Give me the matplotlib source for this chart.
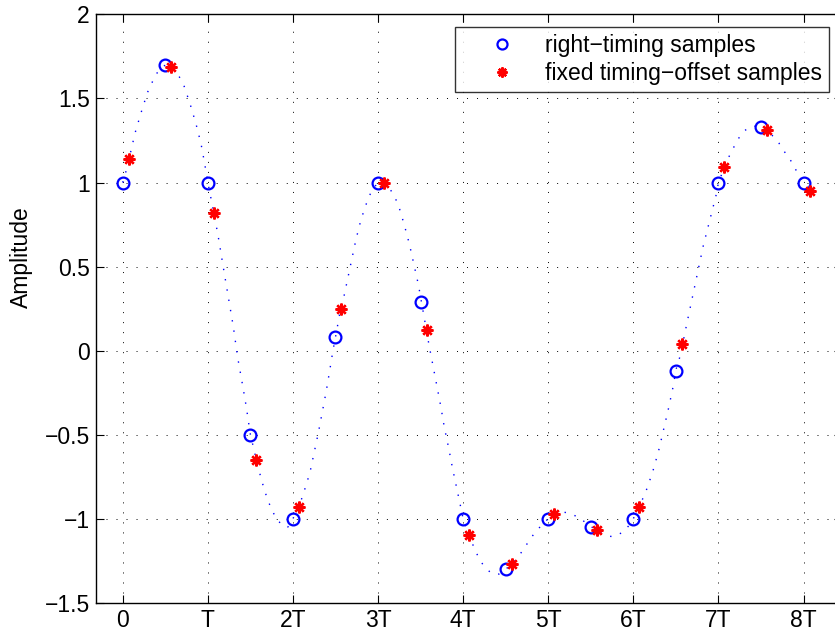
import numpy as np
import matplotlib
matplotlib.use('Agg')
import matplotlib.pyplot as plt

plt.rcParams['font.family'] = ['Liberation Sans', 'DejaVu Sans']

# samples at T/2 spacing
t_samples = [0, 0.5, 1, 1.5, 2, 2.5, 3, 3.5, 4, 4.5, 5, 5.5, 6, 6.5, 7, 7.5, 8]
right_timing = [1.0, 1.70, 1.0, -0.50, -1.0, 0.08, 1.0, 0.29, -1.0, -1.30,
                -1.0, -1.05, -1.0, -0.12, 1.0, 1.33, 1.0]
timing_offset = 0.07
offset_samples = [1.14, 1.69, 0.82, -0.65, -0.93, 0.25, 1.00, 0.12, -1.10, -1.27,
                  -0.975, -1.07, -0.93, 0.04, 1.09, 1.31, 0.95]

# continuous waveform
t_wave = [0.00, 0.04, 0.09, 0.145, 0.215, 0.29, 0.39, 0.50, 0.61, 0.71, 0.79, 0.86,
          0.92, 0.96, 1.00, 1.07, 1.12, 1.18, 1.24, 1.30, 1.35, 1.415, 1.45, 1.50,
          1.57, 1.63, 1.70, 1.75, 1.80, 1.88, 1.94, 2.00, 2.07, 2.13, 2.20, 2.25,
          2.30, 2.345, 2.39, 2.43, 2.47, 2.50, 2.55, 2.59, 2.64, 2.69, 2.74, 2.80,
          2.88, 2.93, 3.00, 3.07, 3.13, 3.19, 3.24, 3.31, 3.37, 3.425, 3.475, 3.51,
          3.57, 3.60, 3.65, 3.695, 3.74, 3.78, 3.83, 3.875, 3.925, 3.97, 4.00, 4.07,
          4.13, 4.18, 4.24, 4.33, 4.42, 4.50, 4.58, 4.70, 4.77, 4.84, 4.92, 5.00,
          5.07, 5.15, 5.23, 5.35, 5.50, 5.57, 5.64, 5.72, 5.77, 5.88, 5.95, 6.00,
          6.07, 6.12, 6.165, 6.24, 6.305, 6.36, 6.415, 6.465, 6.50, 6.545, 6.58,
          6.62, 6.67, 6.72, 6.77, 6.82, 6.88, 6.94, 6.97, 7.00, 7.07, 7.12, 7.18,
          7.24, 7.31, 7.40, 7.50, 7.58, 7.65, 7.71, 7.78, 7.85, 7.91, 8.00, 8.07]
y_wave = [1.00, 1.07, 1.175, 1.295, 1.415, 1.535, 1.645, 1.70, 1.675, 1.59, 1.47, 1.35,
          1.23, 1.12, 1.00, 0.82, 0.685, 0.50, 0.32, 0.14, -0.04, -0.225, -0.33, -0.50,
          -0.65, -0.77, -0.885, -0.945, -0.996, -1.044, -1.05, -1.00, -0.93, -0.84, -0.725, -0.605,
          -0.485, -0.365, -0.245, -0.125, 0.00, 0.08, 0.22, 0.30, 0.42, 0.54, 0.66, 0.78,
          0.90, 0.955, 1.00, 1.00, 0.97, 0.92, 0.865, 0.745, 0.63, 0.505, 0.39, 0.29,
          0.12, 0.03, -0.10, -0.22, -0.34, -0.46, -0.58, -0.70, -0.82, -0.93, -1.00, -1.10,
          -1.175, -1.23, -1.28, -1.325, -1.33, -1.30, -1.27, -1.19, -1.135, -1.085, -1.04, -1.00,
          -0.975, -0.96, -0.965, -0.99, -1.046, -1.07, -1.09, -1.105, -1.107, -1.08, -1.04, -1.00,
          -0.93, -0.87, -0.815, -0.70, -0.58, -0.46, -0.34, -0.22, -0.115, -0.04, 0.04,
          0.14, 0.26, 0.38, 0.50, 0.62, 0.74, 0.86, 0.92, 1.00, 1.09, 1.15, 1.21,
          1.265, 1.31, 1.335, 1.335, 1.31, 1.27, 1.235, 1.18, 1.13, 1.075, 1.00, 0.95]

xtick_pos = [0, 1, 2, 3, 4, 5, 6, 7, 8]
xtick_labels = ['0', 'T', '2T', '3T', '4T', '5T', '6T', '7T', '8T']
ytick_pos = [-1.5, -1, -0.5, 0, 0.5, 1, 1.5, 2]
ytick_labels = ['\u22121.5', '\u22121', '\u22120.5', '0', '0.5', '1', '1.5', '2']

fs = 16.5

fig = plt.figure(figsize=(8.35, 6.31), dpi=100)
ax = fig.add_axes([0.1150, 0.0449, 0.8932, 0.9322])

ax.plot(t_wave, y_wave, color='b', lw=1.0, linestyle=(0, (1, 6.5)))
ax.plot(t_samples, right_timing, 'o', mec='b', mfc='none', mew=1.6, ms=8.5,
        linestyle='none', label='right\u2212timing samples')
ax.plot(np.array(t_samples) + timing_offset, offset_samples, linestyle='none',
        marker=(8, 2, 0), color='r', mec='r', mew=1.7, ms=8.5,
        label='fixed timing\u2212offset samples')

ax.set_xlim(-0.314, 8.45)
ax.set_ylim(-1.5, 2)
ax.set_xticks(xtick_pos)
ax.set_xticklabels(xtick_labels)
ax.set_yticks(ytick_pos)
ax.set_yticklabels(ytick_labels)
ax.tick_params(direction='in', length=6, width=0.8, top=True, right=True,
               labelsize=fs)
ax.tick_params(axis='x', pad=4.5)
ax.tick_params(axis='y', pad=4.5)
ax.grid(True, color='k', lw=0.7, linestyle=(0, (1, 9.3)))
for s in ax.spines.values():
    s.set_linewidth(1.0)
ax.spines['right'].set_visible(False)

ax.set_ylabel('Amplitude', fontsize=fs)
ax.yaxis.set_label_coords(-0.0845, 0.588)

leg = ax.legend(loc='upper right', bbox_to_anchor=(0.983, 0.978), borderaxespad=0,
                fontsize=fs, frameon=True, fancybox=False, edgecolor='k',
                handlelength=3.5, handletextpad=0.15, borderpad=0.3,
                labelspacing=0.2, markerscale=0.85)
leg.get_frame().set_linewidth(1.0)

fig.savefig('out.png', dpi=100)
